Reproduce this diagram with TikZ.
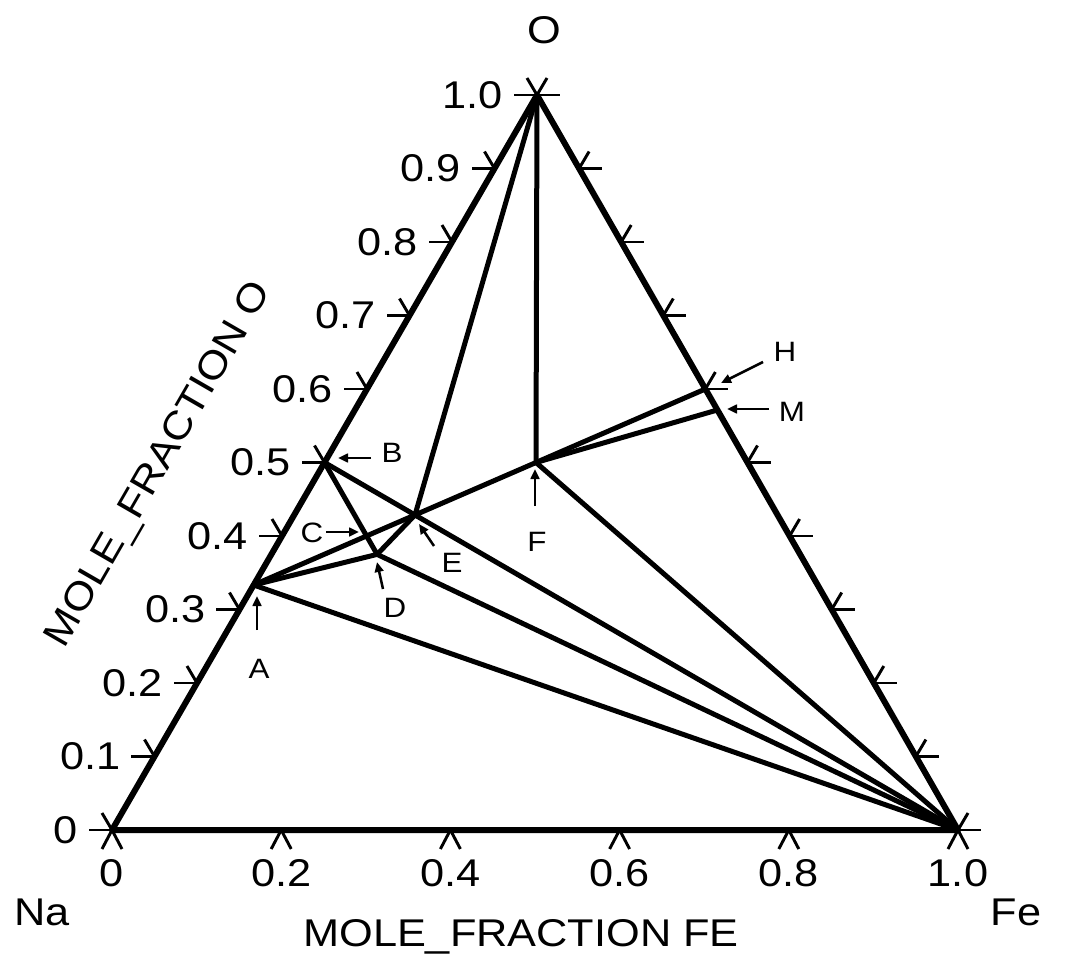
\documentclass[tikz,border=0pt]{standalone}
\usepackage{fontspec}
\usepackage{graphicx}
\setmainfont{Liberation Sans}
\usetikzlibrary{calc,arrows.meta}
\newcommand{\wide}[1]{\scalebox{1.12}[1]{#1}}
\begin{document}
\begin{tikzpicture}[x=0.75pt,y=-0.75pt,
  edge/.style={line width=4.5pt, line cap=round, line join=round},
  tie/.style={line width=3.75pt, line cap=round},
  tickmark/.style={line width=2.2pt},
  num/.style={inner sep=0pt, font=\fontsize{29}{35}\selectfont},
  lab/.style={inner sep=0pt, font=\fontsize{21}{25}\selectfont},
  pointer/.style={line width=1.9pt, -{Triangle[length=7.5pt,width=6.5pt]}},
]
\useasboundingbox (0,0) rectangle (1065,963);
\fill[white] (0,0) rectangle (1065,963);
% vertices
\coordinate (Na) at (112,830);
\coordinate (Fe) at (958,830);
\coordinate (O) at (537,95);
% phases
\coordinate (A) at (barycentric cs:Na=2,O=1);
\coordinate (B) at (barycentric cs:Na=1,O=1);
\coordinate (C) at (barycentric cs:Na=5,Fe=1,O=4);
\coordinate (D) at (barycentric cs:Na=4,Fe=1,O=3);
\coordinate (E) at (barycentric cs:Na=3,Fe=1,O=3);
\coordinate (F) at (barycentric cs:Na=1,Fe=1,O=2);
\coordinate (H) at (barycentric cs:Fe=2,O=3);
\coordinate (M) at (barycentric cs:Fe=3,O=4);
% tie lines
\draw[tie] (O) -- (F);
\draw[tie] (O) -- (E);
\draw[tie] (F) -- (H);
\draw[tie] (F) -- (M);
\draw[tie] (F) -- (Fe);
\draw[tie] (A) -- (C) -- (E) -- (F);
\draw[tie] (A) -- (D);
\draw[tie] (A) -- (Fe);
\draw[tie] (B) -- (C) -- (D);
\draw[tie] (B) -- (E) -- (Fe);
\draw[tie] (D) -- (E);
\draw[tie] (D) -- (Fe);
% triangle
\draw[edge] (Na) -- (Fe) -- (O) -- cycle;
% ticks on left (Na-O) and right (Fe-O) edges
\foreach \k in {0,...,10}{
  \coordinate (L\k) at ($(Na)!{\k/10}!(O)$);
  \coordinate (R\k) at ($(Fe)!{\k/10}!(O)$);
  \draw[tickmark] (L\k) -- ++(-23,0);
  \draw[tickmark] (L\k) -- ++(-10,-17);
  \draw[tickmark] (R\k) -- ++(23,0);
  \draw[tickmark] (R\k) -- ++(10,-17);
}
% ticks on bottom edge
\foreach \j in {0,...,5}{
  \coordinate (T\j) at ($(Na)!{\j/5}!(Fe)$);
  \draw[tickmark] (T\j) -- ++(-10,19);
  \draw[tickmark] (T\j) -- ++(10,19);
}
% left scale labels
\foreach \k/\t in {0/0,1/0.1,2/0.2,3/0.3,4/0.4,5/0.5,6/0.6,7/0.7,8/0.8,9/0.9,10/1.0}{
  \node[num, anchor=east] (yl\k) at ($(L\k)+(-34,0)$) {\wide{\t}};
}
% bottom scale labels
\foreach \j/\t in {0/0,1/0.2,2/0.4,3/0.6,4/0.8,5/1.0}{
  \node[num] (xl\j) at ($(T\j)+(0,43)$) {\wide{\t}};
}
% corner and axis titles
\node[num] (nNa) at (42,912) {\wide{Na}};
\node[num] (nFe) at (1016,912) {\wide{Fe}};
\node[num] (nO) at (544,30) {\wide{O}};
\node[num] (xt) at (521,937) {\wide{MOLE\_FRACTION FE}};
\node[num, rotate=60] (yt) at (160,465) {\wide{MOLE\_FRACTION O}};
% phase labels
\node[lab] (lA) at (259,669) {\wide{A}};
\node[lab] (lB) at (392,453) {\wide{B}};
\node[lab] (lC) at (312,533) {\wide{C}};
\node[lab] (lD) at (395,608) {\wide{D}};
\node[lab] (lE) at (452,563) {\wide{E}};
\node[lab] (lF) at (537,542) {\wide{F}};
\node[lab] (lH) at (785,352) {\wide{H}};
\node[lab] (lM) at (792,412) {\wide{M}};
% pointers
\coordinate (pA1) at (257,630); \coordinate (pA2) at (257,596);
\coordinate (pB1) at (371,458); \coordinate (pB2) at (338,458);
\coordinate (pC1) at (326,532); \coordinate (pC2) at (359,532);
\coordinate (pD1) at (383,589); \coordinate (pD2) at (377,562);
\coordinate (pE1) at (434,546); \coordinate (pE2) at (419,524);
\coordinate (pF1) at (535,506); \coordinate (pF2) at (535,469);
\coordinate (pH1) at (763,362); \coordinate (pH2) at (721,383);
\coordinate (pM1) at (769,409); \coordinate (pM2) at (727,409);
\foreach \p in {A,B,C,D,E,F,H,M}{
  \draw[pointer] (p\p1) -- (p\p2);
}
\end{tikzpicture}
\end{document}
